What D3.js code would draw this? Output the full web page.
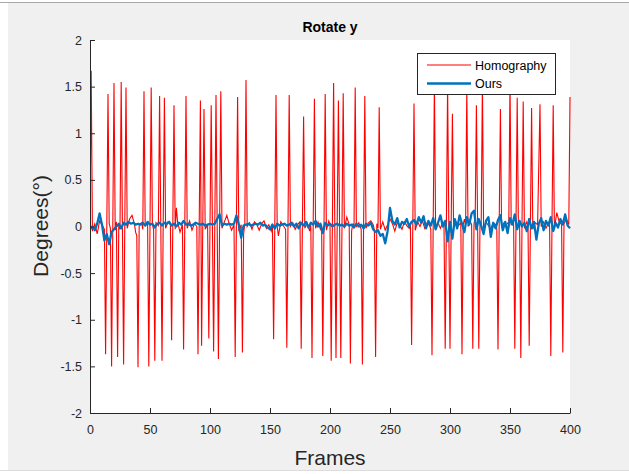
<!DOCTYPE html>
<html><head><meta charset="utf-8">
<script src="https://cdn.jsdelivr.net/npm/d3@7"></script>
<style>
html,body{margin:0;padding:0;background:#ffffff;}
svg{display:block;font-family:"Liberation Sans",Arial,Helvetica,sans-serif;}
</style></head>
<body>
<svg id="chart" width="629" height="474"></svg>
<script>
const title = "Rotate y";
const xLabel = "Frames";
const yLabel = "Degrees(°)";
const seriesNames = ["Homography", "Ours"];
const xTicks = [0, 50, 100, 150, 200, 250, 300, 350, 400];
const yTicks = [2, 1.5, 1, 0.5, 0, -0.5, -1, -1.5, -2];
const yTickLabels = ["2", "1.5", "1", "0.5", "0", "-0.5", "-1", "-1.5", "-2"];

// Homography: [frame, degrees]
const homography = [[0,0.02],[1,1.67],[2,-0.05],[4,0.03],[6,-0.08],[8,0.06],[10,0.02],[12,-0.03],[13,-1.37],[14,0.0],[15,1.42],[16,0.03],[17,-0.02],[18,-1.50],[19,0.01],[20,1.54],[21,-0.04],[22,0.05],[23,-1.40],[24,0.02],[25,-0.03],[26,1.55],[27,0.0],[28,-1.48],[29,0.04],[30,1.49],[31,-0.02],[33,0.08],[35,0.12],[37,0.03],[38,-0.06],[39,-0.1],[40,-1.51],[41,0.02],[43,0.04],[44,-0.03],[45,1.45],[46,0.01],[48,0.03],[49,-1.50],[50,0.0],[51,1.49],[52,0.02],[53,-0.03],[54,-1.44],[55,0.04],[57,0.01],[58,1.40],[59,0.0],[60,-1.44],[61,0.03],[62,1.38],[63,-0.02],[65,0.05],[67,0.02],[68,-1.22],[69,0.01],[70,1.30],[71,-0.03],[72,0.2],[73,0.05],[75,-0.06],[77,0.02],[78,-1.32],[79,0.03],[80,1.40],[81,-0.02],[83,0.06],[85,-0.04],[87,0.03],[89,0.0],[90,-1.37],[91,0.02],[92,1.35],[93,-1.28],[94,0.04],[95,1.26],[96,-0.03],[98,0.02],[99,-1.20],[100,0.0],[101,1.30],[102,0.02],[103,-1.34],[104,0.03],[105,1.41],[106,0.0],[107,-1.42],[108,0.02],[109,1.45],[110,-0.02],[112,0.05],[114,0.12],[116,0.03],[118,-0.04],[120,0.02],[121,-1.40],[122,0.03],[123,1.39],[124,-0.05],[126,0.02],[127,-1.35],[128,-0.08],[129,0.03],[130,1.57],[131,0.0],[133,0.04],[135,-0.03],[137,0.05],[139,0.02],[141,-0.04],[143,0.03],[145,0.06],[147,-0.02],[149,0.02],[151,-0.05],[152,0.03],[153,-1.21],[154,0.02],[155,1.41],[156,0.0],[157,-0.1],[159,0.05],[161,0.01],[163,-0.03],[164,-1.30],[165,0.02],[166,1.41],[167,0.0],[169,0.04],[171,-0.03],[173,0.02],[175,0.05],[176,-1.31],[177,0.02],[178,1.18],[179,-0.02],[181,0.04],[183,-0.05],[184,0.02],[185,-1.41],[186,0.03],[187,1.37],[188,-0.02],[190,0.05],[192,-0.03],[193,0.02],[194,-1.39],[195,0.01],[196,1.42],[197,-0.04],[199,0.06],[200,0.02],[201,-1.44],[202,0.03],[203,1.54],[204,0.0],[205,-1.41],[206,0.02],[207,1.35],[208,0.01],[209,-1.41],[210,0.02],[211,1.43],[212,-0.02],[214,0.10],[216,0.02],[217,-1.47],[218,-0.05],[219,0.03],[220,-0.02],[221,1.49],[222,0.0],[224,0.04],[226,-0.03],[227,-1.48],[228,0.02],[229,1.40],[230,-0.02],[232,0.04],[234,0.06],[236,0.02],[237,-0.04],[238,-1.40],[239,0.03],[240,-0.02],[241,1.28],[242,-0.03],[244,0.05],[246,-0.04],[248,0.02],[250,0.08],[252,0.03],[254,-0.05],[256,0.04],[258,0.02],[260,-0.03],[262,0.05],[264,0.01],[266,-0.02],[267,0.03],[268,-1.27],[269,0.02],[270,1.32],[271,-0.04],[273,0.05],[275,0.0],[277,0.06],[279,-0.02],[281,0.04],[283,0.01],[284,-0.03],[285,-1.38],[286,0.02],[287,1.55],[288,0.0],[290,0.04],[292,-0.02],[294,0.05],[295,0.01],[296,-1.31],[297,0.03],[298,1.52],[299,0.02],[300,-1.31],[301,0.04],[302,1.21],[303,-0.02],[305,0.05],[307,0.01],[309,0.04],[310,-1.37],[311,0.02],[312,0.08],[313,0.02],[314,1.48],[315,0.0],[317,0.05],[318,0.02],[319,-1.31],[320,0.03],[321,0.1],[322,1.30],[323,0.02],[324,-1.31],[325,0.04],[326,0.01],[327,1.55],[328,-0.02],[330,0.05],[332,0.01],[334,-0.03],[336,0.04],[338,0.02],[339,-0.02],[340,-1.32],[341,0.03],[342,1.26],[343,-0.01],[345,0.04],[347,0.02],[349,0.05],[350,1.58],[351,0.02],[353,0.04],[354,-1.31],[355,0.03],[356,1.38],[357,0.0],[358,0.03],[359,-1.41],[360,0.02],[361,1.34],[362,-0.02],[364,0.05],[365,0.01],[366,-1.28],[367,0.02],[368,1.27],[369,-0.03],[371,0.04],[373,0.02],[375,1.31],[376,0.0],[378,0.05],[380,-0.02],[382,0.04],[383,0.01],[384,-1.39],[385,0.03],[386,1.30],[387,-0.02],[389,0.15],[391,0.05],[393,0.02],[394,-1.35],[395,0.03],[397,0.08],[399,0.02],[400,1.39]];

// Ours: one value every 2 frames, frames 0..400
const oursFrames = d3.range(0, 401, 2);
const oursValues = [
-0.03,0.00,-0.04,0.03,0.14,0.02,-0.15,-0.08,-0.19,-0.06,-0.03,
0.00,0.03,-0.02,0.04,0.02,0.05,0.03,0.04,0.02,0.03,0.02,0.04,0.01,0.05,0.02,0.03,-0.01,0.03,0.04,0.01,0.04,0.03,0.05,0.01,0.03,0.00,0.04,0.02,0.06,0.02,0.03,0.01,0.02,0.04,0.03,0.02,0.03,0.01,0.02,0.03,
0.02,0.03,0.08,0.13,0.01,0.03,0.02,0.03,0.02,0.03,0.12,0.02,-0.12,0.01,0.02,0.03,0.01,0.02,0.03,0.02,0.04,0.01,0.02,-0.01,-0.03,0.02,-0.02,0.03,0.01,0.02,0.03,0.01,0.02,0.04,0.00,0.03,-0.02,0.04,0.01,0.05,-0.01,0.04,0.02,0.06,0.00,0.03,-0.07,0.04,0.01,0.03,
0.00,0.02,0.03,0.01,0.02,0.00,0.03,0.01,0.02,-0.01,0.03,0.00,0.02,-0.02,0.03,0.01,0.04,-0.03,-0.06,-0.04,-0.10,-0.08,-0.18,-0.05,0.20,0.06,0.02,0.09,-0.01,0.05,0.03,0.08,0.00,0.05,0.07,0.02,0.10,0.04,0.11,-0.02,0.06,0.01,0.09,-0.03,0.04,0.12,0.00,0.06,-0.16,0.05,
-0.13,0.08,-0.02,0.12,0.03,-0.06,0.10,0.02,0.14,0.17,-0.03,0.08,0.01,-0.08,0.06,0.10,-0.11,0.04,-0.02,0.07,0.12,-0.04,0.05,-0.07,0.09,0.02,0.13,-0.03,0.06,0.00,0.04,-0.05,0.08,-0.02,0.05,-0.14,0.03,0.09,-0.04,0.06,0.01,0.10,-0.05,0.04,-0.01,0.08,0.02,0.13,0.01,-0.02
];

const svg = d3.select("#chart");
// figure background
svg.append("rect").attr("x",8).attr("y",3).attr("width",621).attr("height",467).attr("fill","#f0f0f0");
svg.append("line").attr("x1",0).attr("x2",629).attr("y1",2.5).attr("y2",2.5).attr("stroke","#a8a8a8").attr("stroke-width",1);
svg.append("line").attr("x1",0).attr("x2",629).attr("y1",470.5).attr("y2",470.5).attr("stroke","#dcdcdc").attr("stroke-width",1);

const m = {left:90, right:570, top:40, bottom:413};
const x = d3.scaleLinear().domain([0,400]).range([m.left, m.right]);
const y = d3.scaleLinear().domain([-2,2]).range([m.bottom, m.top]);

svg.append("rect").attr("x",m.left).attr("y",m.top).attr("width",m.right-m.left).attr("height",m.bottom-m.top).attr("fill","#ffffff");

svg.append("defs").append("clipPath").attr("id","clip").append("rect")
  .attr("x",m.left).attr("y",m.top).attr("width",m.right-m.left+2).attr("height",m.bottom-m.top);

const line = d3.line().x(d=>x(d[0])).y(d=>y(d[1]));
const plot = svg.append("g").attr("clip-path","url(#clip)");
plot.append("path").datum(homography).attr("d",line).attr("fill","none")
  .attr("stroke","#ff0000").attr("stroke-width",1.1).attr("stroke-linejoin","miter");
const ours = oursFrames.map((f,i)=>[f, oursValues[i]]);
plot.append("path").datum(ours).attr("d",line).attr("fill","none")
  .attr("stroke","#0072BD").attr("stroke-width",2.3).attr("stroke-linejoin","round");

// axes
const axColor = "#262626";
const xAxis = d3.axisBottom(x).tickValues(xTicks).tickSizeInner(-5).tickSizeOuter(0).tickPadding(12).tickFormat(d3.format("d"));
const gx = svg.append("g").attr("transform",`translate(0,${m.bottom})`).call(xAxis);
const yAxis = d3.axisLeft(y).tickValues(yTicks).tickSizeInner(-5).tickSizeOuter(0).tickPadding(8).tickFormat((d,i)=>yTickLabels[i]);
const gy = svg.append("g").attr("transform",`translate(${m.left},0)`).call(yAxis);
[gx,gy].forEach(g=>{
  g.select(".domain").attr("stroke",axColor).attr("stroke-width",1);
  g.selectAll(".tick line").attr("stroke",axColor);
  g.selectAll(".tick text").attr("fill",axColor).style("font-size","12.5px").style("font-family",'"Liberation Sans",Arial,sans-serif');
});

// title & labels
svg.append("text").attr("x",330).attr("y",32).attr("text-anchor","middle")
  .style("font-weight","bold").style("font-size","14px").attr("fill","#000").text(title);
svg.append("text").attr("x",330).attr("y",465).attr("text-anchor","middle")
  .style("font-size","21px").attr("fill",axColor).text(xLabel);
svg.append("text").attr("transform","translate(48,226) rotate(-90)").attr("text-anchor","middle")
  .style("font-size","21px").attr("fill",axColor).text(yLabel);

// legend
const lg = svg.append("g");
lg.append("rect").attr("x",417.5).attr("y",53.5).attr("width",138).attr("height",41)
  .attr("fill","#ffffff").attr("stroke","#262626").attr("stroke-width",1);
const legendColors = ["#ff0000","#0072BD"], legendWidths=[1.1,2.3], legendY=[65,83.5];
seriesNames.forEach((n,i)=>{
  lg.append("line").attr("x1",427).attr("x2",471).attr("y1",legendY[i]).attr("y2",legendY[i])
    .attr("stroke",legendColors[i]).attr("stroke-width",legendWidths[i]);
  lg.append("text").attr("x",475).attr("y",legendY[i]+4.5).style("font-size","12.5px").attr("fill","#000").text(n);
});
</script>
</body></html>
